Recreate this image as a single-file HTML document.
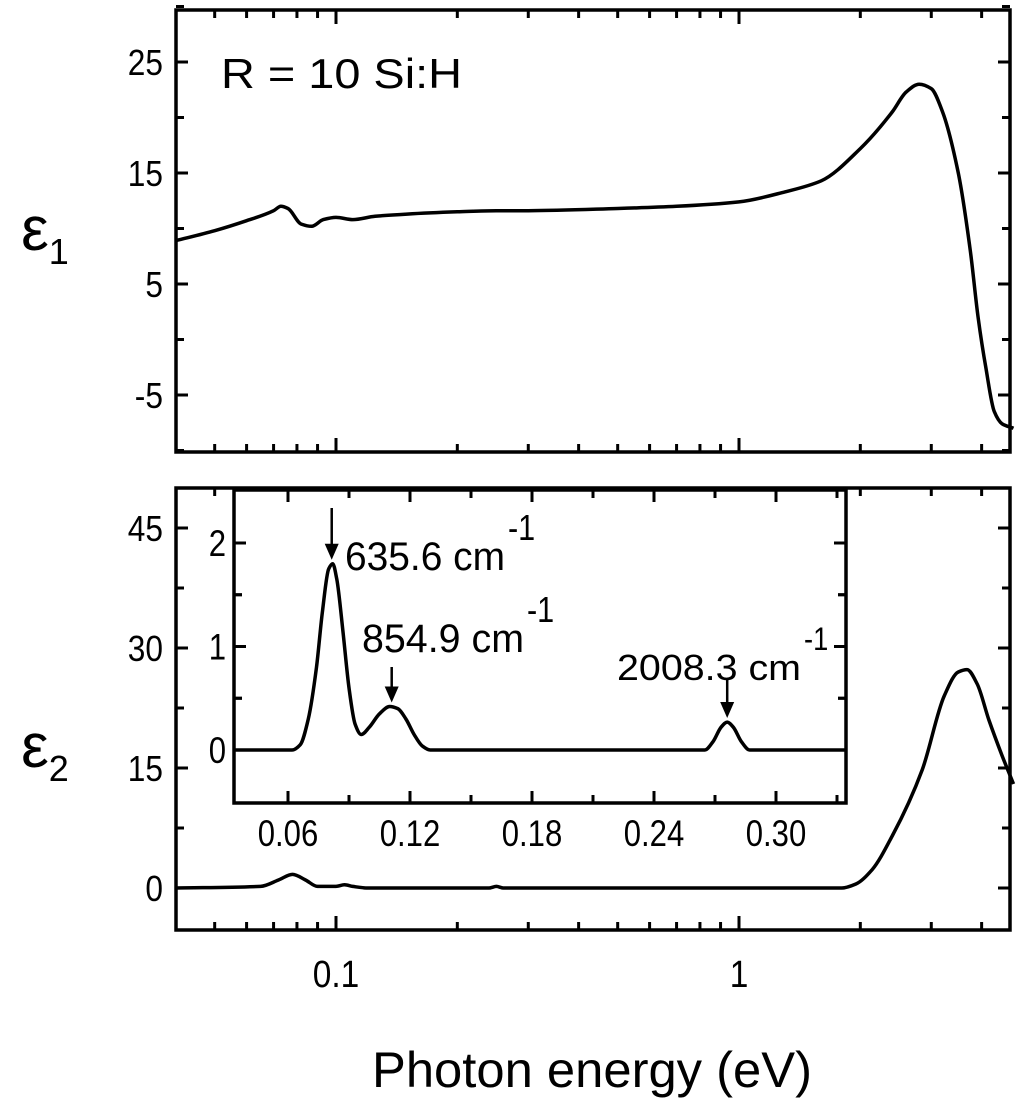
<!DOCTYPE html>
<html><head><meta charset="utf-8"><style>
body{margin:0;background:#fff}
svg{display:block;font-family:"Liberation Sans",sans-serif}
</style></head><body>
<svg id="c" width="1024" height="1101" viewBox="0 0 1024 1101"></svg>
<script>
// ---- data ----
const e1X=[0.04,0.05,0.06,0.07,0.073,0.076,0.082,0.087,0.093,0.1,0.11,0.125,0.15,0.2,0.25,0.3,0.5,0.7,1.0,1.3,1.6,2.0,2.4,2.6,2.8,3.0,3.2,3.5,3.75,3.92,4.1,4.3,4.5,4.8];
const e1Y=[8.9,9.8,10.7,11.6,12.0,11.8,10.4,10.2,10.8,11.0,10.8,11.1,11.3,11.5,11.6,11.6,11.8,12.0,12.4,13.3,14.3,17.2,20.5,22.3,23.0,22.6,20.5,15,8,2,-2.6,-6.5,-7.6,-8.0];
const e2X=[0.04,0.065,0.072,0.078,0.084,0.09,0.1,0.105,0.11,0.12,0.24,0.25,0.26,1.8,1.95,2.14,2.4,2.85,3.23,3.5,3.68,3.9,4.17,4.5,4.8];
const e2Y=[0,0.2,1.0,1.7,1.0,0.2,0.2,0.4,0.2,0,0,0.2,0,0,0.5,2.3,6.5,14.8,24,27,27.3,25.5,21,16.5,13];
const inX=[0.0334,0.062,0.066,0.070,0.074,0.077,0.080,0.082,0.084,0.087,0.090,0.093,0.096,0.100,0.105,0.110,0.114,0.118,0.122,0.126,0.130,0.265,0.269,0.273,0.276,0.279,0.283,0.287,0.334];
const inY=[0,0,0.05,0.3,0.8,1.35,1.75,1.8,1.65,1.15,0.6,0.25,0.15,0.22,0.35,0.42,0.4,0.3,0.15,0.04,0,0,0.08,0.22,0.27,0.22,0.08,0,0];
const topTicks=[-5,5,15,25];
const botTicks=[0,15,30,45];
const inXTicks=["0.06","0.12","0.18","0.24","0.30"];
const inYTicks=[0,1,2];
const peaks=[{x:0.0815,y:1.8,label:"635.6 cm"},{x:0.111,y:0.42,label:"854.9 cm"},{x:0.276,y:0.27,label:"2008.3 cm"}];

const S=document.getElementById('c');const NS='http://www.w3.org/2000/svg';
function el(t,a,p){const e=document.createElementNS(NS,t);for(const k in a)e.setAttribute(k,a[k]);(p||S).appendChild(e);return e;}
function condense(e,f){const w=e.getComputedTextLength();e.setAttribute('textLength',(w*f).toFixed(1));e.setAttribute('lengthAdjust','spacingAndGlyphs');}
const XL=176,XR=1010;
const lx=v=>336+403*Math.log10(v/0.1);
const y1=v=>62+(25-v)*333/30;
const y2=v=>888-v*8;
const ix=v=>288+(v-0.06)*122/0.06;
const iy=v=>750-v*103.5;
function path(xs,ys,fx,fy){const P=xs.map((x,i)=>[fx(x),fy(ys[i])]);const n=P.length;
 const d=[],m=new Array(n);
 for(let i=0;i<n-1;i++)d.push((P[i+1][1]-P[i][1])/(P[i+1][0]-P[i][0]));
 m[0]=d[0];m[n-1]=d[n-2];
 for(let i=1;i<n-1;i++){if(d[i-1]*d[i]<=0)m[i]=0;else{const h0=P[i][0]-P[i-1][0],h1=P[i+1][0]-P[i][0];const w1=2*h1+h0,w2=h1+2*h0;m[i]=(w1+w2)/(w1/d[i-1]+w2/d[i]);}}
 let s='M'+P[0][0].toFixed(1)+','+P[0][1].toFixed(1);
 for(let i=0;i<n-1;i++){const h=(P[i+1][0]-P[i][0])/3;
  s+=` C${(P[i][0]+h).toFixed(1)},${(P[i][1]+m[i]*h).toFixed(1)} ${(P[i+1][0]-h).toFixed(1)},${(P[i+1][1]-m[i+1]*h).toFixed(1)} ${P[i+1][0].toFixed(1)},${P[i+1][1].toFixed(1)}`;}
 return s;}
function frame(t,b,name){const r=el('rect',{x:XL,y:t,width:XR-XL,height:b-t,fill:'none',stroke:'#000','stroke-width':3.5});
 
 const minors=[0.05,0.06,0.07,0.08,0.09,0.2,0.3,0.4,0.5,0.6,0.7,0.8,0.9,2,3,4];
 [0.1,1].forEach(v=>{el('line',{x1:lx(v),x2:lx(v),y1:b,y2:b-14,stroke:'#000','stroke-width':3});el('line',{x1:lx(v),x2:lx(v),y1:t,y2:t+14,stroke:'#000','stroke-width':3});});
 minors.forEach(v=>{el('line',{x1:lx(v),x2:lx(v),y1:b,y2:b-8,stroke:'#000','stroke-width':3});el('line',{x1:lx(v),x2:lx(v),y1:t,y2:t+8,stroke:'#000','stroke-width':3});});}
function yt(y,maj){const L=maj?12:8;el('line',{x1:XL,x2:XL+L,y1:y,y2:y,stroke:'#000','stroke-width':3});el('line',{x1:XR,x2:XR-L,y1:y,y2:y,stroke:'#000','stroke-width':3});}
// top
frame(10,452,'top-panel-frame');
topTicks.forEach(v=>{yt(y1(v),1);yt(y1(v+5),0);const t=el('text',{x:163,y:y1(v)+13,'text-anchor':'end','font-size':36});t.textContent=v;condense(t,0.88);});
yt(y1(-10),0);
let p=el('path',{d:path(e1X,e1Y,lx,y1),fill:'none',stroke:'#000','stroke-width':3.5});

let t=el('text',{x:221,y:88,'font-size':42,textLength:241,lengthAdjust:'spacingAndGlyphs'});t.textContent='R = 10 Si:H';
t=el('text',{x:45,y:250,'font-size':62,'text-anchor':'middle'});t.innerHTML='ε<tspan font-size="36" dy="14">1</tspan>';
// bottom
frame(488,930,'bottom-panel-frame');
botTicks.forEach(v=>{yt(y2(v),1);const tt=el('text',{x:163,y:y2(v)+13,'text-anchor':'end','font-size':36});tt.textContent=v;condense(tt,0.88);});
[7.5,22.5,37.5].forEach(v=>yt(y2(v),0));
p=el('path',{d:path(e2X,e2Y,lx,y2),fill:'none',stroke:'#000','stroke-width':3.5});

[['0.1',0.1],['1',1]].forEach(([s,v])=>{const q=el('text',{x:lx(v),y:987,'text-anchor':'middle','font-size':38});q.textContent=s;condense(q,0.88);});
t=el('text',{x:45,y:767,'font-size':62,'text-anchor':'middle'});t.innerHTML='ε<tspan font-size="36" dy="14">2</tspan>';
t=el('text',{x:372,y:1087,'font-size':50,textLength:440,lengthAdjust:'spacingAndGlyphs'});t.textContent='Photon energy (eV)';
// inset
const IL=234,IR=846,IT=490,IB=803;
let r=el('rect',{x:IL,y:IT,width:IR-IL,height:IB-IT,fill:'#fff',stroke:'#000','stroke-width':3.5});

inXTicks.forEach(s=>{const v=parseFloat(s),X=ix(v);
 el('line',{x1:X,x2:X,y1:IB,y2:IB-12,stroke:'#000','stroke-width':3});el('line',{x1:X,x2:X,y1:IT,y2:IT+12,stroke:'#000','stroke-width':3});
 const m=ix(v+0.03);if(m<IR){el('line',{x1:m,x2:m,y1:IB,y2:IB-8,stroke:'#000','stroke-width':3});el('line',{x1:m,x2:m,y1:IT,y2:IT+8,stroke:'#000','stroke-width':3});}
 const q=el('text',{x:X,y:846,'text-anchor':'middle','font-size':37});q.textContent=s;condense(q,0.84);});
inYTicks.forEach(v=>{const Y=iy(v);el('line',{x1:IL,x2:IL+12,y1:Y,y2:Y,stroke:'#000','stroke-width':3});el('line',{x1:IR,x2:IR-12,y1:Y,y2:Y,stroke:'#000','stroke-width':3});
 [v-0.5,v+0.5].forEach(u=>{const Yu=iy(u);if(Yu>IT+5&&Yu<IB-5){el('line',{x1:IL,x2:IL+8,y1:Yu,y2:Yu,stroke:'#000','stroke-width':3});el('line',{x1:IR,x2:IR-8,y1:Yu,y2:Yu,stroke:'#000','stroke-width':3});}});
 const q=el('text',{x:226,y:Y+13,'text-anchor':'end','font-size':37});q.textContent=v;condense(q,0.84);});
p=el('path',{d:path(inX,inY,ix,iy),fill:'none',stroke:'#000','stroke-width':3.5});

const lab=[[345,570,160],[362,652,162],[617,680,184]],atop=[508,667,678];
peaks.forEach((pk,i)=>{const X=ix(pk.x),Yp=iy(pk.y)-4;
 const a=el('line',{x1:X,x2:X,y1:atop[i],y2:Yp-10,stroke:'#000','stroke-width':2.5});
 el('polygon',{points:`${X-7},${Yp-16} ${X+7},${Yp-16} ${X},${Yp}`,fill:'#000'});
 const L=lab[i];const q=el('text',{x:L[0],y:L[1],'font-size':i==2?36:40,textLength:L[2],lengthAdjust:'spacingAndGlyphs'});q.textContent=pk.label;
 const s=el('text',{x:L[0]+L[2]+3,y:L[1]-30,'font-size':i==2?32:36});s.textContent='-1';condense(s,0.85);});
</script>
</body></html>
